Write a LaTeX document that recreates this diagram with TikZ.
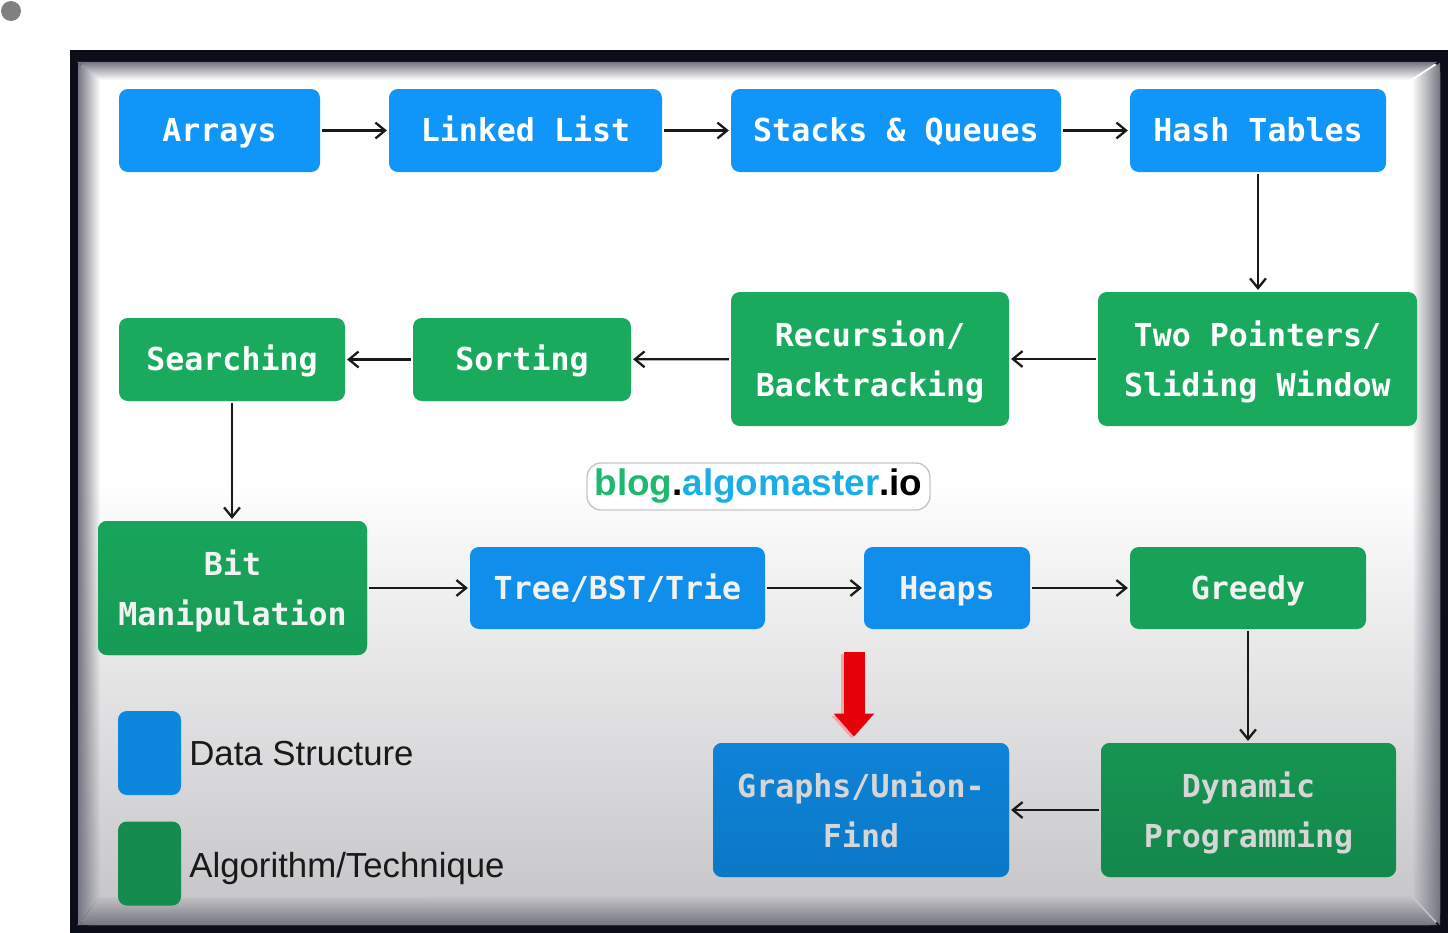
\documentclass[tikz,border=0pt]{standalone}
\usepackage{fontspec}
\usetikzlibrary{arrows.meta,fadings}
\newfontfamily\boxfamily{DejaVu Sans Mono}
\newfontfamily\legendfamily{Liberation Sans}
\definecolor{framedark}{RGB}{11,13,24}
\definecolor{panelbottom}{RGB}{196,196,199}
\definecolor{bevelgray}{RGB}{118,118,130}
\definecolor{dotgray}{RGB}{128,128,128}
\definecolor{dsblue}{RGB}{16,150,248}
\definecolor{alggreen}{RGB}{25,170,94}
\definecolor{dsbluemid}{RGB}{15,142,236}
\definecolor{alggreenmid}{RGB}{24,161,89}
\definecolor{dsbluelowtop}{RGB}{14,131,216}
\definecolor{dsbluelowbot}{RGB}{12,120,198}
\definecolor{alggreenlowtop}{RGB}{22,148,82}
\definecolor{alggreenlowbot}{RGB}{20,136,75}
\definecolor{keyblue}{RGB}{13,135,222}
\definecolor{keygreen}{RGB}{21,140,78}
\definecolor{bloggreen}{RGB}{30,184,110}
\definecolor{blogblue}{RGB}{26,174,230}
\definecolor{arrowred}{RGB}{230,0,10}
\pgfdeclareverticalshading{panelshade}{100bp}{color(0bp)=(panelbottom); color(25bp)=(panelbottom); color(51bp)=(white); color(100bp)=(white)}
\begin{document}
\begin{tikzpicture}[x=0.02cm,y=-0.02cm,
	box/.style={rounded corners=5pt, inner sep=0pt, align=center, text=white, font=\boxfont},
	oneline/.style={text height=13pt, text depth=0pt},
	boxsize/.style 2 args={minimum width=#1*0.02cm, minimum height=#2*0.02cm},
	ds/.style={box, fill=dsblue},
	alg/.style={box, fill=alggreen},
	flow/.style={-{Straight Barb[length=5.5pt,width=9pt]}, line width=1.3pt, draw=black!90, shorten >=1pt, shorten <=1pt},
	key/.style={rounded corners=5pt, inner sep=0pt},
	legendtext/.style={inner sep=0pt, font=\legendfont, text=black!90}]
	\newcommand{\boxfont}{\boxfamily\bfseries\fontsize{18}{28.5}\selectfont}
	\newcommand{\legendfont}{\legendfamily\fontsize{19.8}{24}\selectfont}
	\newcommand{\blogfont}{\legendfamily\bfseries\fontsize{21}{25}\selectfont}
	%Struts so that two lines sit the same way in every box
	\newcommand{\topstrut}{\rule{0pt}{19.5pt}}
	\newcommand{\botstrut}{\rule[-5pt]{0pt}{5pt}}
	\useasboundingbox (0,0) rectangle (1448,933);
	%Dot in the corner
	\fill[dotgray] (11,11) circle (10);
	%Dark frame and the panel
	\fill[framedark] (70,50) rectangle (1448,933);
	\shade[shading=panelshade, rounded corners=6pt] (78,62) rectangle (1440,925);
	%Bevelled edges of the panel
	\fill[bevelgray, path fading=east] (78,62) -- (100,80) -- (100,897) -- (78,925) -- cycle;
	\fill[bevelgray, path fading=south] (78,62) -- (1440,62) -- (1412,80) -- (100,80) -- cycle;
	\fill[bevelgray, path fading=west] (1440,62) -- (1440,925) -- (1412,895) -- (1412,80) -- cycle;
	\fill[bevelgray, path fading=north] (78,925) -- (1440,925) -- (1412,895) -- (100,897) -- cycle;
	%First row: data structures
	\node[ds, oneline, boxsize={201}{83}] (arrays) at (219.5,130.5) {Arrays};
	\node[ds, oneline, boxsize={273}{83}] (linked) at (525.5,130.5) {Linked List};
	\node[ds, oneline, boxsize={330}{83}] (stacks) at (896,130.5) {Stacks \& Queues};
	\node[ds, oneline, boxsize={256}{83}] (hash) at (1258,130.5) {Hash Tables};
	%Second row: techniques, right to left
	\node[alg, boxsize={319}{134}] (twoptr) at (1257.5,359) {\topstrut Two Pointers/\\Sliding Window\botstrut};
	\node[alg, boxsize={278}{134}] (recursion) at (870,359) {\topstrut Recursion/\\Backtracking\botstrut};
	\node[alg, oneline, boxsize={218}{83}] (sorting) at (522,359.5) {Sorting};
	\node[alg, oneline, boxsize={226}{83}] (searching) at (232,359.5) {Searching};
	%Third row
	\node[alg, top color=alggreen!97!black, bottom color=alggreenmid!96!black, text=white!95!black, boxsize={269}{134}] (bitmanip) at (232.5,588) {\topstrut Bit\\Manipulation\botstrut};
	\node[ds, oneline, fill=dsbluemid, text=white!95!black, boxsize={295}{82}] (tree) at (617.5,588) {Tree/BST/Trie};
	\node[ds, oneline, fill=dsbluemid, text=white!95!black, boxsize={166}{82}] (heaps) at (947,588) {Heaps};
	\node[alg, oneline, fill=alggreenmid, text=white!95!black, boxsize={236}{82}] (greedy) at (1248,588) {Greedy};
	%Fourth row
	\node[alg, top color=alggreenlowtop, bottom color=alggreenlowbot, text=white!84!black, boxsize={295}{134}] (dp) at (1248.5,810) {\topstrut Dynamic\\Programming\botstrut};
	\node[ds, top color=dsbluelowtop, bottom color=dsbluelowbot, text=white!84!black, boxsize={296}{134}] (graphs) at (861,810) {\topstrut Graphs/Union-\\Find\botstrut};
	%Connectors
	\draw[flow] (arrays) -- (linked);
	\draw[flow] (linked) -- (stacks);
	\draw[flow] (stacks) -- (hash);
	\draw[flow] (hash.south) -- (hash.south |- twoptr.north);
	\draw[flow] (twoptr) -- (recursion);
	\draw[flow] (recursion) -- (sorting);
	\draw[flow] (sorting) -- (searching);
	\draw[flow] (searching.south) -- (searching.south |- bitmanip.north);
	\draw[flow] (bitmanip) -- (tree);
	\draw[flow] (tree) -- (heaps);
	\draw[flow] (heaps) -- (greedy);
	\draw[flow] (greedy.south) -- (greedy.south |- dp.north);
	\draw[flow] (dp) -- (graphs);
	%The red arrow
	\coordinate (redtail) at (854,652);
	\draw[-{Triangle[length=0.46cm,width=0.78cm]}, line width=0.42cm, draw=arrowred!35, shorten >=0.12cm, transform canvas={xshift=-0.05cm,yshift=-0.04cm}] (redtail) -- (redtail |- graphs.north);
	\draw[-{Triangle[length=0.46cm,width=0.78cm]}, line width=0.42cm, draw=arrowred, shorten >=0.12cm] (redtail) -- (redtail |- graphs.north);
	%Watermark
	\node[draw=black!22, fill=white, line width=0.8pt, rounded corners=8pt, inner sep=0pt, minimum width=343*0.02cm, minimum height=47*0.02cm, font=\blogfont] (blog) at (758.5,486.5) {\textcolor{bloggreen}{blog}.\textcolor{blogblue}{algomaster}.io};
	%Legend
	\node[key, fill=keyblue, boxsize={63}{84}] (keyds) at (149.5,753) {};
	\node[key, fill=keygreen, boxsize={63}{84}] (keyalg) at (149.5,863.5) {};
	\node[legendtext, anchor=base west] (keydstext) at (189,765) {Data Structure};
	\node[legendtext, anchor=base west] (keyalgtext) at (189,877) {Algorithm/Technique};
\end{tikzpicture}
\end{document}
